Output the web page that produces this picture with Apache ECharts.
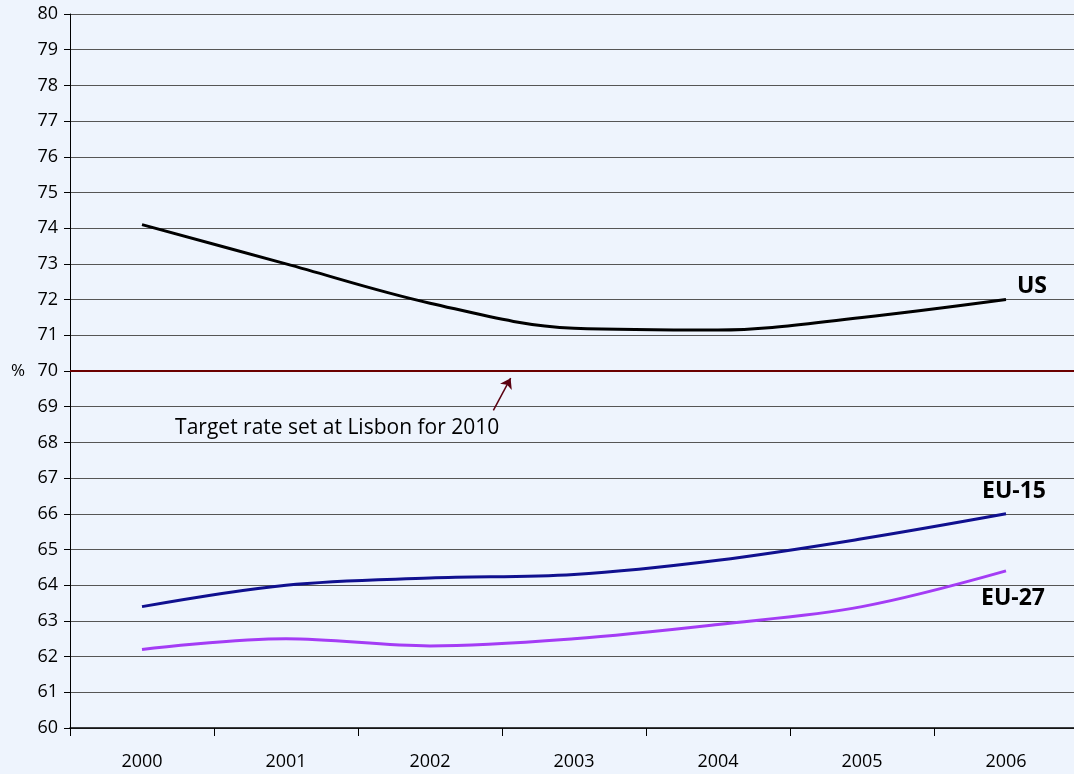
<!DOCTYPE html>
<html>
<head>
<meta charset="utf-8">
<script src="https://cdn.jsdelivr.net/npm/echarts@6/dist/echarts.min.js"></script>
<style>
  html, body { margin: 0; padding: 0; background: #eef4fd; overflow: hidden; }
  #chartDom { width: 1080px; height: 774px; }
</style>
</head>
<body>
<div id="chartDom"></div>
<script>
const years = ['2000', '2001', '2002', '2003', '2004', '2005', '2006'];
const us = [74.1, 73.0, 71.9, 71.2, 71.15, 71.5, 72.0];
const eu15 = [63.4, 64.0, 64.2, 64.3, 64.7, 65.3, 66.0];
const eu27 = [62.2, 62.5, 62.3, 62.5, 62.9, 63.4, 64.4];
const target = 70;
// annotation arrow, [category position, value]
const arrowFrom = [2.44, 68.9];
const arrowTo = [2.56, 69.8];
const noteText = 'Target rate set at Lisbon for 2010';
const noteAt = [0.23, 68.4];

const font = 'Open Sans, Lato, sans-serif';

const option = {
  backgroundColor: '#eef4fd',
  animation: false,
  grid: { left: 70, top: 14, width: 1008, height: 714 },
  xAxis: {
    type: 'category', data: years, boundaryGap: true,
    axisLine: { lineStyle: { color: '#000', width: 1.5 } },
    axisTick: { show: true, length: 8, lineStyle: { color: '#000' } },
    axisLabel: { margin: 25, fontFamily: font, fontSize: 18, color: '#000' },
    splitLine: { show: false }
  },
  yAxis: {
    type: 'value', min: 60, max: 80, interval: 1,
    name: '%', nameLocation: 'middle', nameGap: 45, nameRotate: 0,
    nameTextStyle: { fontFamily: font, fontSize: 17, color: '#000' },
    axisLine: { show: true, lineStyle: { color: '#000', width: 1 } },
    axisTick: { show: true, length: 6, lineStyle: { color: '#000' } },
    axisLabel: { margin: 12, fontFamily: font, fontSize: 18, color: '#000' },
    splitLine: { show: true, lineStyle: { color: '#555', width: 1 } }
  },
  series: [
    { name: 'US', type: 'line', data: us, smooth: 0.35, symbol: 'none', z: 3,
      lineStyle: { color: '#000000', width: 3 } },
    { name: 'EU-15', type: 'line', data: eu15, smooth: 0.35, symbol: 'none', z: 3,
      lineStyle: { color: '#10108f', width: 3 } },
    { name: 'EU-27', type: 'line', data: eu27, smooth: 0.35, symbol: 'none', z: 3,
      lineStyle: { color: '#a43cf5', width: 3 } },
    {
      type: 'line', data: [], z: 2,
      markLine: {
        symbol: 'none', silent: true,
        label: { show: false },
        lineStyle: { color: '#6b0000', width: 2, type: 'solid' },
        data: [{ yAxis: target }]
      }
    }
  ]
};

const myChart = echarts.init(document.getElementById('chartDom'));
myChart.setOption(option);

// category axis snaps to whole indexes, so interpolate between them
function toPx(pt) {
  const i = Math.floor(pt[0]);
  const a = myChart.convertToPixel({ gridIndex: 0 }, [i, pt[1]]);
  const b = myChart.convertToPixel({ gridIndex: 0 }, [i + 1, pt[1]]);
  const f = pt[0] - i;
  return [a[0] + (b[0] - a[0]) * f, a[1]];
}

const labels = [
  { name: 'US', data: us, dx: 26, dy: -13 },
  { name: 'EU-15', data: eu15, dx: 8, dy: -22 },
  { name: 'EU-27', data: eu27, dx: 7, dy: 28 }
];
const graphics = labels.map(l => {
  const p = myChart.convertToPixel({ gridIndex: 0 }, [years.length - 1, l.data[l.data.length - 1]]);
  return {
    type: 'text', x: p[0] + l.dx, y: p[1] + l.dy, z: 10,
    style: { text: l.name, fontFamily: font, fontSize: 23, fontWeight: 'bold', fill: '#000',
      textAlign: 'center', textVerticalAlign: 'middle' }
  };
});
const np = toPx(noteAt);
graphics.push({
  type: 'text', x: np[0], y: np[1], z: 10,
  style: { text: noteText, fontFamily: font, fontSize: 21, fill: '#000',
    textAlign: 'left', textVerticalAlign: 'middle' }
});

const a0 = toPx(arrowFrom);
const a1 = toPx(arrowTo);
myChart.setOption({
  graphic: graphics,
  series: [{}, {}, {}, {}, {
    type: 'line', data: [], z: 4,
    markLine: {
      symbol: ['none', 'arrow'], symbolSize: 10, silent: true,
      label: { show: false },
      lineStyle: { color: '#5a0010', width: 1.5, type: 'solid' },
      data: [[{ x: a0[0], y: a0[1] }, { x: a1[0], y: a1[1] }]]
    }
  }]
});
</script>
</body>
</html>
